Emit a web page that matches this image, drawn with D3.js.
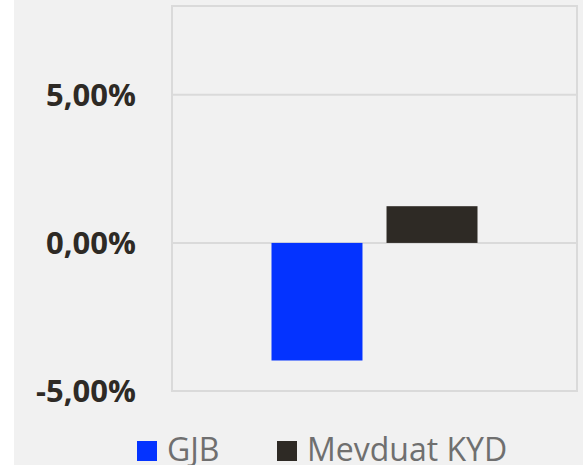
<!DOCTYPE html>
<html>
<head>
<meta charset="utf-8">
<script src="https://cdn.jsdelivr.net/npm/d3@7"></script>
<style>
  body { margin: 0; background: #fff; }
  text { font-family: "Open Sans", sans-serif; }
</style>
</head>
<body>
<div id="chart"></div>
<script>
// data
var categories = [""];
var seriesNames = ["GJB", "Mevduat KYD"];
var seriesValues = [-3.97, 1.24];
var yTicks = [-5, 0, 5];
var tickLabels = ["-5,00%", "0,00%", "5,00%"];
var colors = ["#0433ff", "#2e2a25"];

var W = 583, H = 465;
var margin = { top: 6, right: 6, bottom: 74, left: 172 };
var width = W - margin.left - margin.right,
    height = H - margin.top - margin.bottom;

var root = d3.select("#chart").append("svg")
    .attr("width", W)
    .attr("height", H);

// page background
root.append("rect").attr("x", 14).attr("y", 0).attr("width", W - 14).attr("height", H).attr("fill", "#f1f1f1");

var svg = root.append("g")
    .attr("transform", "translate(" + margin.left + "," + margin.top + ")");

var y = d3.scaleLinear().domain([-5, 8]).range([height, 0]);
var x0 = d3.scaleBand().domain(categories).range([0, width]).paddingInner(0).paddingOuter(0.483);
var x1 = d3.scaleBand().domain(seriesNames).range([0, x0.bandwidth()]).paddingInner(0.209);

// plot frame
svg.append("rect")
    .attr("x", 0).attr("y", 0)
    .attr("width", width).attr("height", height)
    .attr("fill", "none")
    .attr("stroke", "#dadada")
    .attr("stroke-width", 2);

// gridlines
svg.selectAll(".grid")
    .data(yTicks)
    .enter().append("line")
    .attr("x1", 0).attr("x2", width)
    .attr("y1", function (d) { return y(d); })
    .attr("y2", function (d) { return y(d); })
    .attr("stroke", "#dadada")
    .attr("stroke-width", 2);

// y labels
svg.selectAll(".ylab")
    .data(yTicks)
    .enter().append("text")
    .attr("x", -36)
    .attr("y", function (d) { return y(d); })
    .attr("dy", "0.35em")
    .attr("text-anchor", "end")
    .style("font-size", "31px")
    .style("font-weight", "bold")
    .attr("fill", "#2e2a25")
    .text(function (d, i) { return tickLabels[i]; });

// bars
svg.selectAll(".bar")
    .data(seriesValues)
    .enter().append("rect")
    .attr("x", function (d, i) { return x0(categories[0]) + x1(seriesNames[i]); })
    .attr("width", x1.bandwidth())
    .attr("y", function (d) { return y(Math.max(0, d)); })
    .attr("height", function (d) { return Math.abs(y(d) - y(0)); })
    .attr("fill", function (d, i) { return colors[i]; });

// legend
var legendX = [137, 277];
var legend = root.selectAll(".leg")
    .data(seriesNames)
    .enter().append("g")
    .attr("transform", function (d, i) { return "translate(" + legendX[i] + ",441)"; });
legend.append("rect")
    .attr("width", 20).attr("height", 20)
    .attr("fill", function (d, i) { return colors[i]; });
legend.append("text")
    .attr("x", 30).attr("y", 20)
    .style("font-size", "32px")
    .attr("fill", "#6f6f6f")
    .text(function (d) { return d; });
</script>
</body>
</html>
